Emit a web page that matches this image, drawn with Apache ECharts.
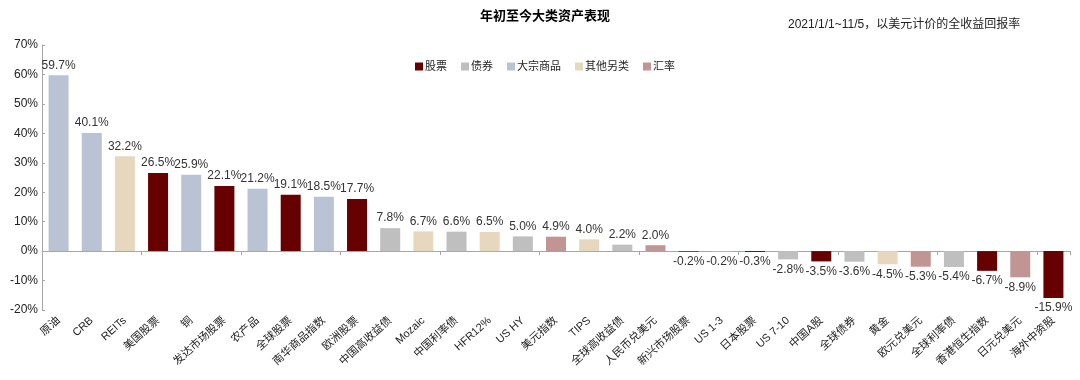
<!DOCTYPE html>
<html><head><meta charset="utf-8">
<script src="https://cdn.jsdelivr.net/npm/echarts@6/dist/echarts.min.js"></script>
<style>html,body{margin:0;padding:0;background:#fff}#c{width:1080px;height:380px}</style>
</head><body><div id="c"></div>
<script>
const categories = ['原油','CRB','REITs','美国股票','铜','发达市场股票','农产品','全球股票','南华商品指数','欧洲股票','中国高收益债','Mozaic','中国利率债','HFR12%','US HY','美元指数','TIPS','全球高收益债','人民币兑美元','新兴市场股票','US 1-3','日本股票','US 7-10','中国A股','全球债券','黄金','欧元兑美元','全球利率债','香港恒生指数','日元兑美元','海外中资股'];
const values = [59.7,40.1,32.2,26.5,25.9,22.1,21.2,19.1,18.5,17.7,7.8,6.7,6.6,6.5,5.0,4.9,4.0,2.2,2.0,-0.2,-0.2,-0.3,-2.8,-3.5,-3.6,-4.5,-5.3,-5.4,-6.7,-8.9,-15.9];
const groups = ['大宗商品','大宗商品','其他另类','股票','大宗商品','股票','大宗商品','股票','大宗商品','股票','债券','其他另类','债券','其他另类','债券','汇率','其他另类','债券','汇率','股票','债券','股票','债券','股票','债券','其他另类','汇率','债券','股票','汇率','股票'];
const groupNames = ['股票','债券','大宗商品','其他另类','汇率'];
const yTicks = [-20,-10,0,10,20,30,40,50,60,70];

const colors = {'股票':'#670000','债券':'#bfbfbf','大宗商品':'#b9c3d4','其他另类':'#e8d7bf','汇率':'#c29595'};
const font = '"Liberation Sans", Arial, "Noto Sans CJK SC", sans-serif';

const series = groupNames.map(g => ({
  name: g, type: 'bar', stack: 'all', barWidth: 20,
  itemStyle: {color: colors[g]},
  data: values.map((v,i) => groups[i] === g ? {
    value: v,
    label: {show: true, position: v < 0 ? 'bottom' : 'top', distance: 4,
      formatter: p => p.value.toFixed(1) + '%', color: '#333', fontSize: 12, fontFamily: font}
  } : '-')
}));

const chart = echarts.init(document.getElementById('c'));
chart.setOption({
  animation: false,
  textStyle: {fontFamily: font},
  title: [
    {text: '年初至今大类资产表现', left: 540, top: 5, textAlign: 'center',
     textStyle: {fontSize: 13, fontWeight: 'bold', color: '#000', fontFamily: font}},
    {text: '2021/1/1~11/5，以美元计价的全收益回报率', left: 783, top: 14,
     textStyle: {fontSize: 12, fontWeight: 'normal', color: '#222', fontFamily: font}}
  ],
  legend: {data: groupNames, top: 56, left: 410, itemWidth: 8, itemHeight: 8, itemGap: 14,
    icon: 'rect', textStyle: {fontSize: 11, color: '#222', fontFamily: font, padding: [0,0,0,-3]}},
  grid: {left: 42, right: 10, top: 45, bottom: 70, containLabel: false},
  xAxis: [
    {type: 'category', data: categories, axisLine: {onZero: true, lineStyle: {color: '#a6a6a6'}},
     axisTick: {show: true, length: 4, lineStyle: {color: '#a6a6a6'}}, axisLabel: {show: false}},
    {type: 'category', data: categories, position: 'bottom',
     axisLine: {show: false, onZero: false}, axisTick: {show: false},
     axisLabel: {rotate: 42, interval: 0, fontSize: 11, color: '#222', margin: 9, fontFamily: font}}
  ],
  yAxis: {type: 'value', min: -20, max: 70, interval: 10,
    axisLine: {show: true, lineStyle: {color: '#a6a6a6'}},
    axisTick: {show: true, inside: true, length: 3, lineStyle: {color: '#a6a6a6'}},
    splitLine: {show: false},
    axisLabel: {formatter: v => yTicks.includes(v) ? v + '%' : '', fontSize: 12, color: '#222', margin: 4, fontFamily: font}},
  series: series
});
</script></body></html>
